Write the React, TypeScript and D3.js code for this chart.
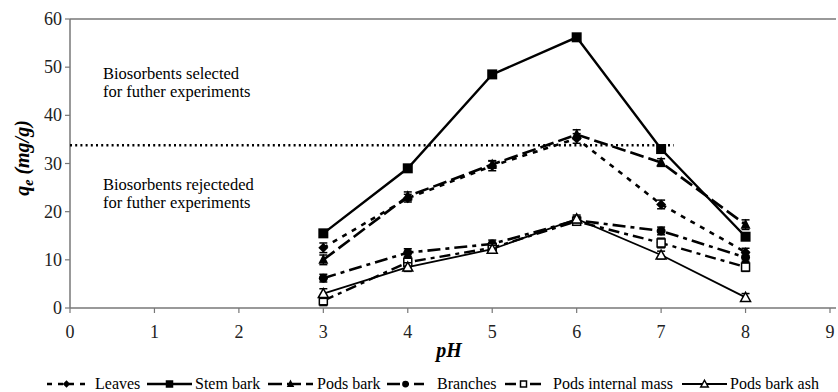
import React from "react";
import * as d3 from "d3";

// pH levels tested
const phLevels = [3, 4, 5, 6, 7, 8];

// Adsorption capacity q_e (mg/g) for each biosorbent
const leaves = [12.5, 22.8, 29.5, 35.2, 21.5, 11.6];
const stemBark = [15.5, 29.0, 48.5, 56.2, 33.0, 14.8];
const podsBark = [10.0, 23.2, 29.8, 36.0, 30.2, 17.3];
const branches = [6.2, 11.5, 13.3, 18.2, 16.0, 10.5];
const podsInternalMass = [1.5, 9.5, 12.5, 18.0, 13.5, 8.5];
const podsBarkAsh = [3.0, 8.5, 12.2, 18.5, 11.0, 2.2];

// Error bar half-widths (mg/g)
const leavesErr = [1.0, 0.8, 1.0, 1.0, 0.9, 0.8];
const stemBarkErr = [0.5, 0.6, 0.5, 0.5, 0.6, 0.6];
const podsBarkErr = [1.0, 0.9, 0.8, 1.0, 0.8, 1.0];
const branchesErr = [0.8, 0.8, 0.8, 0.8, 0.8, 0.8];
const podsInternalMassErr = [1.0, 1.0, 0.8, 0.8, 1.0, 0.9];
const podsBarkAshErr = [1.0, 0.9, 0.8, 0.8, 0.8, 0.8];

const threshold = 33.8;

const xTicks = [0, 1, 2, 3, 4, 5, 6, 7, 8, 9];
const yTicks = [0, 10, 20, 30, 40, 50, 60];

type Marker = "diamond" | "square" | "triangle" | "circle" | "squareOpen" | "triangleOpen";

interface Series {
  name: string;
  values: number[];
  errors: number[];
  dash: string;
  marker: Marker;
  width: number;
}

const series: Series[] = [
  { name: "Leaves", values: leaves, errors: leavesErr, dash: "5,6", marker: "diamond", width: 2.6 },
  { name: "Stem bark", values: stemBark, errors: stemBarkErr, dash: "", marker: "square", width: 2.4 },
  { name: "Pods bark", values: podsBark, errors: podsBarkErr, dash: "14,5", marker: "triangle", width: 2.6 },
  { name: "Branches", values: branches, errors: branchesErr, dash: "13,5,4,5", marker: "circle", width: 2.6 },
  { name: "Pods internal mass", values: podsInternalMass, errors: podsInternalMassErr, dash: "11,5,4,5", marker: "squareOpen", width: 2.4 },
  { name: "Pods bark ash", values: podsBarkAsh, errors: podsBarkAshErr, dash: "", marker: "triangleOpen", width: 1.8 },
];

const FONT = "Liberation Serif";

function MarkerShape({ type, x, y, k = 1 }: { type: Marker; x: number; y: number; k?: number }) {
  const s = 5 * k;
  switch (type) {
    case "diamond":
      return <path d={`M${x},${y - s}L${x + s},${y}L${x},${y + s}L${x - s},${y}Z`} fill="#000" />;
    case "square":
      return <rect x={x - s} y={y - s} width={2 * s} height={2 * s} fill="#000" />;
    case "triangle":
      return <path d={`M${x},${y - 1.2 * s}L${x + s},${y + 0.8 * s}L${x - s},${y + 0.8 * s}Z`} fill="#000" />;
    case "circle":
      return <circle cx={x} cy={y} r={0.9 * s} fill="#000" />;
    case "squareOpen":
      return <rect x={x - 0.8 * s} y={y - 0.8 * s} width={1.6 * s} height={1.6 * s} fill="#fff" stroke="#000" strokeWidth={1.5} />;
    case "triangleOpen":
      return <path d={`M${x},${y - s}L${x + s},${y + 0.8 * s}L${x - s},${y + 0.8 * s}Z`} fill="#fff" stroke="#000" strokeWidth={1.5} />;
  }
}

export default function App() {
  const W = 838;
  const H = 392;
  const left = 70;
  const right = 830;
  const top = 19;
  const bottom = 308;

  const x = d3.scaleLinear().domain([0, 9]).range([left, right]);
  const y = d3.scaleLinear().domain([0, 60]).range([bottom, top]);

  const line = d3
    .line<[number, number]>()
    .x((d) => x(d[0]))
    .y((d) => y(d[1]));

  // Legend layout: line start, line end, text x
  const legendY = 384;
  const legendItems = [
    { s: series[0], x0: 47, x1: 86, tx: 95 },
    { s: series[1], x0: 147, x1: 192, tx: 195 },
    { s: series[2], x0: 268, x1: 313, tx: 317 },
    { s: series[3], x0: 387, x1: 424, tx: 437 },
    { s: series[4], x0: 505, x1: 542, tx: 553 },
    { s: series[5], x0: 682, x1: 727, tx: 730 },
  ];

  return (
    <svg width={W} height={H} fontFamily={FONT} style={{ position: "absolute", left: 0, top: 0, background: "#fff" }}>
      {/* frame */}
      <line x1={left} x2={right + 6} y1={top} y2={top} stroke="#777" strokeWidth={1.5} />
      <line x1={left} x2={right + 6} y1={bottom} y2={bottom} stroke="#777" strokeWidth={1.5} />
      <line x1={left} x2={left} y1={top} y2={bottom} stroke="#777" strokeWidth={1.5} />

      {/* y ticks */}
      {yTicks.map((t) => (
        <g key={`y${t}`}>
          <line x1={left - 5} x2={left} y1={y(t)} y2={y(t)} stroke="#777" strokeWidth={1.2} />
          <text x={left - 8} y={y(t)} dy="0.34em" textAnchor="end" fontSize={18} fill="#222" fontFamily={FONT}>
            {t}
          </text>
        </g>
      ))}
      {/* x ticks */}
      {xTicks.map((t) => (
        <g key={`x${t}`}>
          <line x1={x(t)} x2={x(t)} y1={bottom} y2={bottom + 5} stroke="#777" strokeWidth={1.2} />
          <text x={x(t)} y={bottom + 30} textAnchor="middle" fontSize={18} fill="#222" fontFamily={FONT}>
            {t}
          </text>
        </g>
      ))}

      {/* axis titles */}
      <text x={(left + right) / 2 - 1} y={357} textAnchor="middle" fontSize={20} fontWeight="bold" fontStyle="italic" fontFamily={FONT}>
        pH
      </text>
      <text
        transform={`translate(29,158) rotate(-90)`}
        textAnchor="middle"
        fontSize={20}
        fontWeight="bold"
        fontStyle="italic"
        fontFamily={FONT}
      >
        q<tspan fontSize={14} dy={4}>e</tspan>
        <tspan dy={-4}> (mg/g)</tspan>
      </text>

      {/* selection threshold */}
      <line x1={left} x2={x(7.15)} y1={y(threshold)} y2={y(threshold)} stroke="#000" strokeWidth={2.4} strokeDasharray="2,3.2" />
      <text x={103} y={79} fontSize={16.5} fontFamily={FONT}>Biosorbents selected</text>
      <text x={103} y={97} fontSize={16.5} fontFamily={FONT}>for futher experiments</text>
      <text x={103} y={190} fontSize={16.5} fontFamily={FONT}>Biosorbents rejecteded</text>
      <text x={103} y={208} fontSize={16.5} fontFamily={FONT}>for futher experiments</text>

      {/* series */}
      {series.map((s) => {
        const pts = phLevels.map((p, i) => [p, s.values[i]] as [number, number]);
        return (
          <g key={s.name}>
            <path d={line(pts) || ""} fill="none" stroke="#000" strokeWidth={s.width} strokeDasharray={s.dash} />
            {pts.map((d, i) => {
              const cx = x(d[0]);
              const e = s.errors[i];
              const y1 = y(d[1] + e);
              const y2 = y(d[1] - e);
              return (
                <g key={i}>
                  <line x1={cx} x2={cx} y1={y1} y2={y2} stroke="#000" strokeWidth={1.2} />
                  <line x1={cx - 4} x2={cx + 4} y1={y1} y2={y1} stroke="#000" strokeWidth={1.5} />
                  <line x1={cx - 4} x2={cx + 4} y1={y2} y2={y2} stroke="#000" strokeWidth={1.5} />
                  <MarkerShape type={s.marker} x={cx} y={y(d[1])} />
                </g>
              );
            })}
          </g>
        );
      })}

      {/* legend */}
      {legendItems.map(({ s, x0, x1, tx }) => (
        <g key={`lg-${s.name}`}>
          <line x1={x0} x2={x1} y1={legendY} y2={legendY} stroke="#000" strokeWidth={s.width} strokeDasharray={s.dash} />
          <MarkerShape type={s.marker} x={(x0 + x1) / 2} y={legendY} k={0.75} />
          <text x={tx} y={legendY} dy="0.33em" fontSize={16} fontFamily={FONT}>
            {s.name}
          </text>
        </g>
      ))}
    </svg>
  );
}
